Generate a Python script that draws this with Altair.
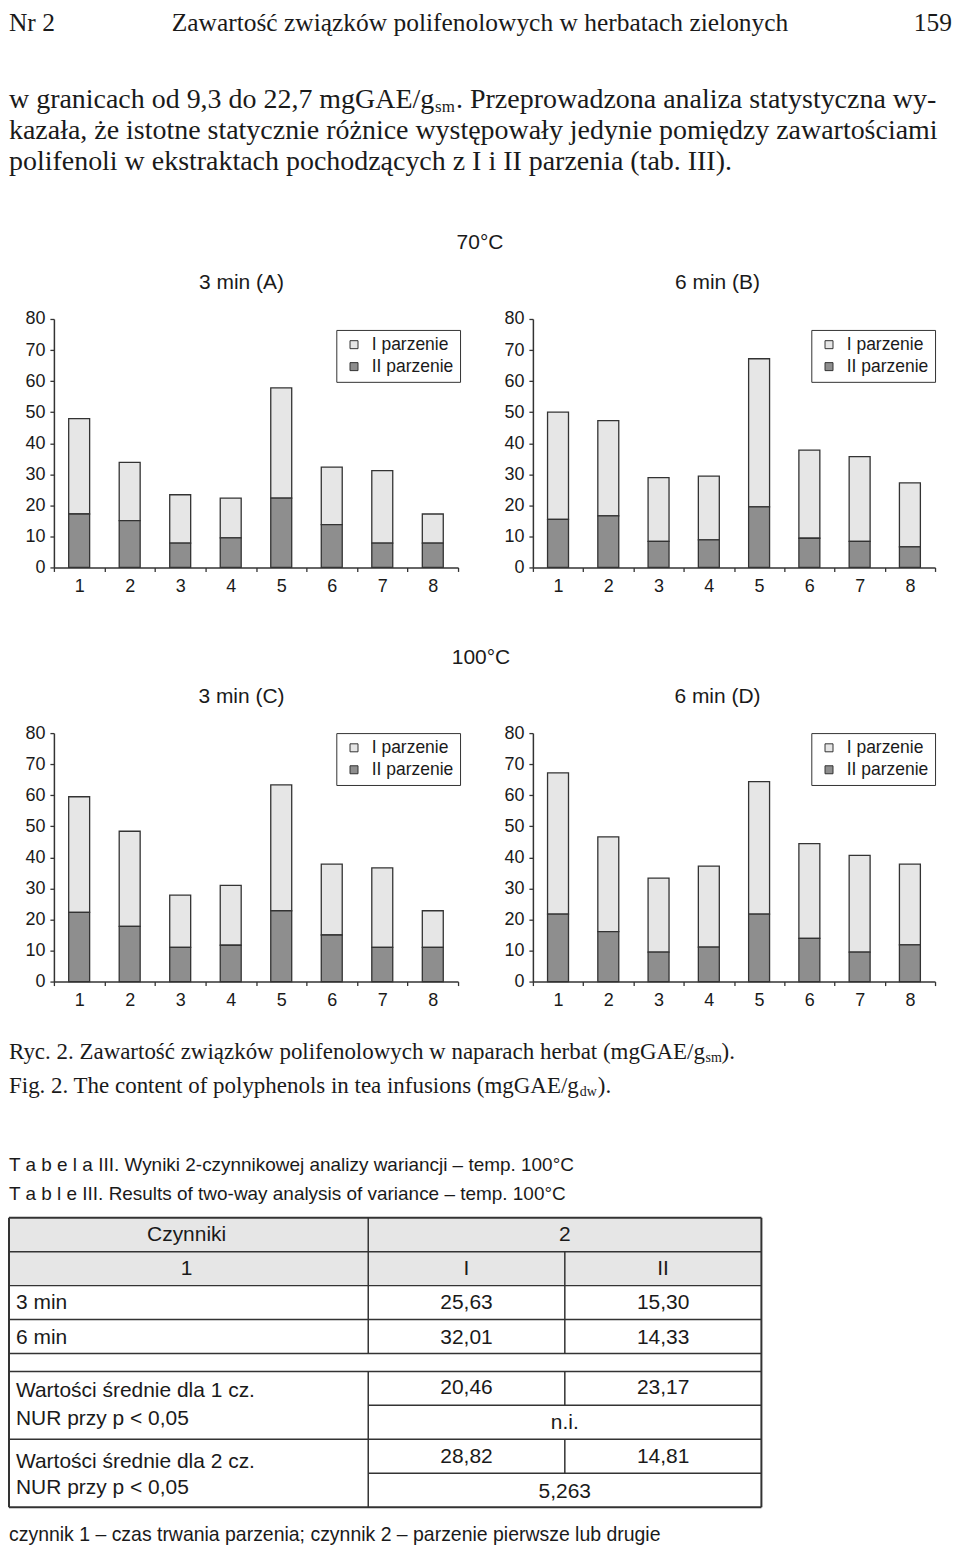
import altair as alt
import pandas as pd

# ---------------- data ----------------
teas = ["1", "2", "3", "4", "5", "6", "7", "8"]
series = ["I parzenie", "II parzenie"]

A_I = [30.7, 18.7, 15.6, 12.8, 35.5, 18.5, 23.4, 9.4]
A_II = [17.2, 15.1, 7.8, 9.5, 22.3, 13.8, 7.8, 7.8]
B_I = [34.5, 30.7, 20.5, 20.5, 47.7, 28.4, 27.3, 20.6]
B_II = [15.5, 16.6, 8.4, 8.9, 19.5, 9.4, 8.4, 6.6]
C_I = [37.2, 30.6, 16.8, 19.3, 40.5, 22.8, 25.6, 11.8]
C_II = [22.3, 17.8, 11.0, 11.7, 22.8, 15.0, 11.0, 11.0]
D_I = [45.5, 30.5, 23.8, 26.1, 42.7, 30.5, 31.1, 26.0]
D_II = [21.7, 16.1, 9.5, 11.1, 21.7, 13.9, 9.5, 11.8]

y_ticks = [0, 10, 20, 30, 40, 50, 60, 70, 80]

header = ["Nr 2", "Zawartość związków polifenolowych w herbatach zielonych", "159"]
para1a = "w granicach od 9,3 do 22,7 mgGAE/g"
para1b = ". Przeprowadzona analiza statystyczna wy-"
para2 = "kazała, że istotne statycznie różnice występowały jedynie pomiędzy zawartościami"
para3 = "polifenoli w ekstraktach pochodzących z I i II parzenia (tab. III)."
temps = ["70°C", "100°C"]
panel_titles = ["3 min (A)", "6 min (B)", "3 min (C)", "6 min (D)"]
cap_pl = "Ryc. 2. Zawartość związków polifenolowych w naparach herbat (mgGAE/g"
cap_en = "Fig. 2. The content of polyphenols in tea infusions (mgGAE/g"
tab_pl = "T a b e l a III. Wyniki 2-czynnikowej analizy wariancji – temp. 100°C"
tab_en = "T a b l e III. Results of two-way analysis of variance – temp. 100°C"
tab_head = ["Czynniki", "2", "1", "I", "II"]
tab_rows = ["3 min", "6 min"]
tab_vals = [["25,63", "15,30"], ["32,01", "14,33"]]
mean_labels = ["Wartości średnie dla 1 cz.", "Wartości średnie dla 2 cz."]
nur_label = "NUR przy p < 0,05"
mean_vals = [["20,46", "23,17"], ["28,82", "14,81"]]
nur_vals = ["n.i.", "5,263"]
footnote = "czynnik 1 – czas trwania parzenia; czynnik 2 – parzenie pierwsze lub drugie"

SERIF = "Liberation Serif"
SANS = "Liberation Sans"
INK = "#1a1a1a"
LINE = "#333333"
ONE = alt.Data(values=[{}])


def txt(s, x, y, size, font=SANS, align="left", baseline="middle"):
    return alt.Chart(ONE).mark_text(
        text=s, align=align, baseline=baseline, font=font, fontSize=size, color=INK
    ).encode(x=alt.value(x), y=alt.value(y))


def hline(x1, x2, y, w=1.5):
    return alt.Chart(ONE).mark_rule(color=LINE, strokeWidth=w).encode(
        x=alt.value(x1), x2=alt.value(x2), y=alt.value(y))


def vline(x, y1, y2, w=1.5):
    return alt.Chart(ONE).mark_rule(color=LINE, strokeWidth=w).encode(
        x=alt.value(x), y=alt.value(y1), y2=alt.value(y2))


def spacer():
    return alt.Chart(ONE).mark_text(text="", fontSize=2).encode(
        x=alt.value(5), y=alt.value(20)).properties(width=1, height=1)


def panel(vals_I, vals_II, width, lx, ly):
    df = pd.DataFrame({
        "tea": teas + teas,
        "series": [series[0]] * 8 + [series[1]] * 8,
        "value": vals_I + vals_II,
        "ord": [2] * 8 + [1] * 8,
    })
    return alt.Chart(df).mark_bar(size=21, stroke=LINE, strokeWidth=1.3).encode(
        x=alt.X("tea:O", sort=teas,
                scale=alt.Scale(paddingInner=0, paddingOuter=0),
                axis=alt.Axis(title=None, labelAngle=0, tickBand="extent",
                              labelFont=SANS, labelFontSize=18, labelColor=INK,
                              labelPadding=6, tickSize=4, tickColor=LINE,
                              domainColor=LINE, domainWidth=1.5, tickWidth=1.3)),
        y=alt.Y("value:Q", stack="zero",
                scale=alt.Scale(domain=[0, 80], nice=False),
                axis=alt.Axis(title=None, values=y_ticks, grid=False,
                              labelFont=SANS, labelFontSize=18, labelColor=INK,
                              labelPadding=5, tickSize=4, tickColor=LINE,
                              domainColor=LINE, domainWidth=1.5, tickWidth=1.3)),
        color=alt.Color("series:N",
                        scale=alt.Scale(domain=series, range=["#e6e6e6", "#8e8e8e"]),
                        legend=alt.Legend(title=None, orient="none", legendX=lx, legendY=ly,
                                          strokeColor=LINE, fillColor="white", padding=6,
                                          symbolType="square", symbolSize=64,
                                          symbolStrokeColor=LINE, symbolStrokeWidth=1,
                                          labelFont=SANS, labelFontSize=17.5,
                                          labelColor=INK, rowPadding=3, labelOffset=9,
                                          symbolOffset=3)),
        order=alt.Order("ord:Q"),
    ).properties(width=width, height=249)


# ---------------- top text block ----------------
L = -45  # left text edge relative to first plot's left
top = alt.layer(
    txt(header[0], L, 13, 25.5, SERIF),
    txt(header[1], 427, 13, 25.5, SERIF, align="center"),
    txt(header[2], 900, 13, 25.5, SERIF, align="right"),
    txt(para1a, L, 91, 28, SERIF),
    txt("sm", 382, 98, 17, SERIF),
    txt(para1b, 403, 91, 28, SERIF),
    txt(para2, L, 122, 28, SERIF),
    txt(para3, L, 153, 28, SERIF),
    txt(temps[0], 427, 234, 21, SANS, align="center"),
    txt(panel_titles[0], 188, 274, 21, SANS, align="center"),
    txt(panel_titles[1], 665, 274, 21, SANS, align="center"),
).properties(width=405, height=310)

A = panel(A_I, A_II, 405, 283, 11)
B = panel(B_I, B_II, 403, 279, 11)

mid = alt.layer(
    txt(temps[1], 428, 91, 21, SANS, align="center"),
    txt(panel_titles[2], 188, 130, 21, SANS, align="center"),
    txt(panel_titles[3], 665, 130, 21, SANS, align="center"),
).properties(width=405, height=166)

C = panel(C_I, C_II, 405, 283, 0)
D = panel(D_I, D_II, 403, 279, 0)

# ---------------- bottom: captions + table ----------------
XL, X1, X2, XR = -45, 315, 512, 709
Y = [236.7, 270.7, 304.7, 338.7, 372.7, 390.7, 424.7, 458.7, 492.7, 526.7]
cI, cII, c1, cM = 413.5, 610.5, 133, 512
TS = 21

bottom_layers = [
    txt(cap_pl, L, 70.7, 23, SERIF),
    txt("sm", 653, 77, 14, SERIF),
    txt(").", 669, 70.7, 23, SERIF),
    txt(cap_en, L, 104.7, 23, SERIF),
    txt("dw", 527, 111, 14, SERIF),
    txt(").", 545, 104.7, 23, SERIF),
    txt(tab_pl, L, 183.7, 19, SANS),
    txt(tab_en, L, 212.7, 19, SANS),
    alt.Chart(ONE).mark_rect(color="#e6e6e6").encode(
        x=alt.value(XL), x2=alt.value(XR), y=alt.value(Y[0]), y2=alt.value(Y[2])),
]
for i, yy in enumerate(Y):
    if i in (6, 8):
        bottom_layers.append(hline(X1, XR, yy))
    else:
        bottom_layers.append(hline(XL, XR, yy, 2 if i in (0, 9) else 1.5))
bottom_layers += [
    vline(XL, Y[0], Y[9], 2), vline(XR, Y[0], Y[9], 2),
    vline(X1, Y[0], Y[4]), vline(X1, Y[5], Y[9]),
    vline(X2, Y[1], Y[4]), vline(X2, Y[5], Y[6]), vline(X2, Y[7], Y[8]),
]
bottom_layers += [
    txt(tab_head[0], c1, 253.7, TS, align="center"),
    txt(tab_head[1], cM, 253.7, TS, align="center"),
    txt(tab_head[2], c1, 287.7, TS, align="center"),
    txt(tab_head[3], cI, 287.7, TS, align="center"),
    txt(tab_head[4], cII, 287.7, TS, align="center"),
    txt(tab_rows[0], -38, 321.7, TS),
    txt(tab_vals[0][0], cI, 321.7, TS, align="center"),
    txt(tab_vals[0][1], cII, 321.7, TS, align="center"),
    txt(tab_rows[1], -38, 356.7, TS),
    txt(tab_vals[1][0], cI, 356.7, TS, align="center"),
    txt(tab_vals[1][1], cII, 356.7, TS, align="center"),
    txt(mean_labels[0], -38, 410.7, TS),
    txt(nur_label, -38, 438.7, TS),
    txt(mean_vals[0][0], cI, 407.7, TS, align="center"),
    txt(mean_vals[0][1], cII, 407.7, TS, align="center"),
    txt(nur_vals[0], cM, 442.7, TS, align="center"),
    txt(mean_labels[1], -38, 481.7, TS),
    txt(nur_label, -38, 507.7, TS),
    txt(mean_vals[1][0], cI, 476.7, TS, align="center"),
    txt(mean_vals[1][1], cII, 476.7, TS, align="center"),
    txt(nur_vals[1], cM, 511.7, TS, align="center"),
    txt(footnote, L, 554.7, 19.5),
]
bottom = alt.layer(*bottom_layers).properties(width=405, height=560)

chart = alt.concat(
    top, spacer(),
    A, B,
    mid, spacer(),
    C, D,
    bottom, spacer(),
    columns=2, spacing={"row": 0, "column": 75}, bounds="flush",
).resolve_scale(color="independent").resolve_legend(color="independent") \
    .properties(padding=0, background="white") \
    .configure_view(stroke=None)

chart.save("out.html", embed_options={"renderer": "svg", "actions": False})
